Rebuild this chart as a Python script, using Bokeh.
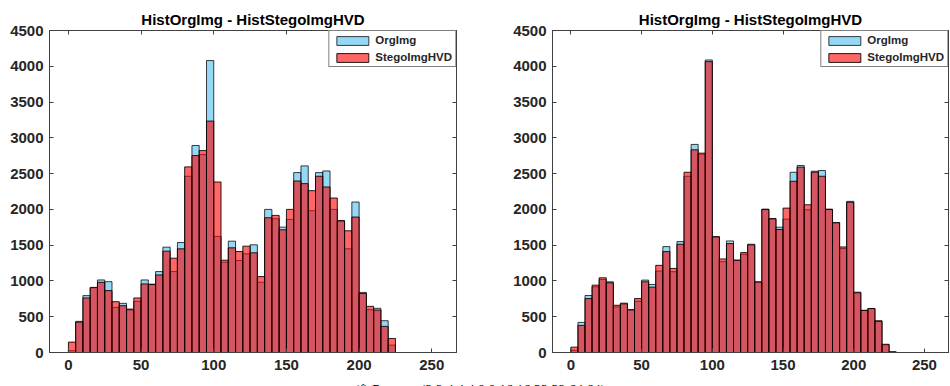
from bokeh.plotting import figure
from bokeh.layouts import column, row
from bokeh.models import (Range1d, FixedTicker, Div, ColumnDataSource, LinearAxis,
                          CustomLabelingPolicy)
from bokeh.embed import file_html
from bokeh.resources import INLINE

# ---- data ----
bin_width = 5
left_bins = list(range(0, 225, 5))
right_bins = list(range(0, 230, 5))

left_org = [25, 435, 795, 905, 1014, 990, 630, 687, 607, 715, 1014, 955, 1131, 1472, 1131,
            1537, 2463, 2893, 2766, 4080, 1622, 1262, 1556, 1285, 1379, 1505, 981, 2000, 1869,
            1752, 1860, 2514, 2608, 1981, 2514, 2537, 2000, 1832, 1449, 2103, 840, 598, 617, 444, 103]
left_stego = [145, 425, 762, 910, 981, 865, 710, 654, 598, 762, 958, 950, 1084, 1416, 1318,
              1449, 2594, 2752, 2822, 3234, 2383, 1290, 1463, 1411, 1486, 1393, 1061, 1883, 1916,
              1715, 2000, 2397, 2360, 2262, 2463, 2313, 2159, 1845, 1701, 1893, 825, 645, 593, 365, 196]

right_org = [30, 421, 796, 918, 1021, 988, 637, 690, 600, 716, 1012, 951, 1138, 1480, 1129,
             1550, 2463, 2908, 2772, 4088, 1620, 1269, 1559, 1292, 1372, 1513, 988, 2004, 1873,
             1751, 1864, 2519, 2613, 1995, 2533, 2543, 2004, 1817, 1452, 2112, 843, 590, 613, 445, 108, 10]
right_stego = [75, 379, 754, 941, 1044, 974, 660, 680, 595, 754, 988, 913, 1218, 1410, 1175,
               1513, 2519, 2833, 2786, 4065, 1615, 1307, 1522, 1288, 1396, 1505, 985, 1998, 1868,
               1719, 2018, 2393, 2590, 2065, 2520, 2463, 1998, 1812, 1475, 2100, 835, 588, 615, 435, 115, 8]

x_ticks = [0, 50, 100, 150, 200, 250]
y_ticks = [0, 500, 1000, 1500, 2000, 2500, 3000, 3500, 4000, 4500]
title_text = "HistOrgImg - HistStegoImgHVD"
series_names = ["OrgImg", "StegoImgHVD"]
caption = "(f) Ranges: (2,2,4,4,4,8,8,16,16,32,32,64,64)"

BLUE = "#4DBEEE"
RED = "#FF0000"
FONT = "Liberation Sans"
AX = "#262626"
EDGE = "#404040"


def no_labels():
    return CustomLabelingPolicy(code="""
for (const i of indices)
  indices.unset(i)
""")


def make_panel(bins, org, stego, width, bl, br):
    p = figure(width=width, height=378, output_backend="svg", toolbar_location=None,
               x_range=Range1d(-13, 267), y_range=Range1d(0, 4500),
               min_border_left=bl, min_border_right=br, min_border_top=30, min_border_bottom=26)
    p.title.text = title_text
    p.title.align = "center"
    p.title.text_font = FONT
    p.title.text_font_size = "15px"
    p.title.text_font_style = "bold"
    p.title.text_color = "#000000"
    p.title.standoff = 5
    p.grid.visible = False
    p.outline_line_color = EDGE
    p.background_fill_color = "white"
    p.border_fill_color = "white"

    src_o = ColumnDataSource(dict(l=bins, r=[b + bin_width for b in bins], t=org))
    src_s = ColumnDataSource(dict(l=bins, r=[b + bin_width for b in bins], t=stego))
    p.quad(left="l", right="r", top="t", bottom=0, source=src_o, fill_color=BLUE,
           fill_alpha=0.6, line_color="black", line_alpha=0.75, line_width=1,
           legend_label=series_names[0])
    p.quad(left="l", right="r", top="t", bottom=0, source=src_s, fill_color=RED,
           fill_alpha=0.6, line_color="black", line_alpha=0.85, line_width=1,
           legend_label=series_names[1])

    for ax in (p.xaxis[0], p.yaxis[0]):
        ax.major_label_text_font = FONT
        ax.major_label_text_font_size = "15px"
        ax.major_label_text_font_style = "bold"
        ax.major_label_text_color = AX
        ax.axis_line_color = EDGE
        ax.major_tick_line_color = EDGE
        ax.major_tick_in = 4
        ax.major_tick_out = 0
        ax.minor_tick_line_color = None
    p.xaxis[0].ticker = FixedTicker(ticks=x_ticks)
    p.yaxis[0].ticker = FixedTicker(ticks=y_ticks)
    p.xaxis[0].major_label_standoff = 7
    p.yaxis[0].major_label_standoff = 6

    top = LinearAxis(ticker=FixedTicker(ticks=x_ticks), major_label_text_font_size="0px",
                     major_label_policy=no_labels(),
                     major_tick_in=4, major_tick_out=0, minor_tick_line_color=None,
                     axis_line_color=EDGE, major_tick_line_color=EDGE,
                     major_label_standoff=0)
    rgt = LinearAxis(ticker=FixedTicker(ticks=y_ticks), major_label_text_font_size="0px",
                     major_label_policy=no_labels(),
                     major_tick_in=4, major_tick_out=0, minor_tick_line_color=None,
                     axis_line_color=EDGE, major_tick_line_color=EDGE,
                     major_label_standoff=0)
    p.add_layout(top, "above")
    p.add_layout(rgt, "right")

    lg = p.legend[0]
    lg.location = "top_right"
    lg.margin = 0
    lg.padding = 3
    lg.spacing = 5
    lg.glyph_width = 40
    lg.glyph_height = 11
    lg.label_height = 11
    lg.label_standoff = 3
    lg.label_text_font = FONT
    lg.label_text_font_size = "11.5px"
    lg.label_text_font_style = "bold"
    lg.label_text_color = AX
    lg.border_line_color = "black"
    lg.border_line_width = 1
    lg.background_fill_alpha = 1
    return p


p1 = make_panel(left_bins, left_org, left_stego, 490, 49, 34)
p2 = make_panel(right_bins, right_org, right_stego, 460, 62, 2)

cap = Div(text=caption, width=950, height=8,
          styles={"font-family": "Liberation Serif", "font-size": "14px", "text-align": "center",
                  "overflow": "hidden", "line-height": "14px", "padding-top": "1px",
                  "color": "#000000"})

layout = column(row(p1, p2), cap)

open("out.html", "w").write(file_html(layout, INLINE))
